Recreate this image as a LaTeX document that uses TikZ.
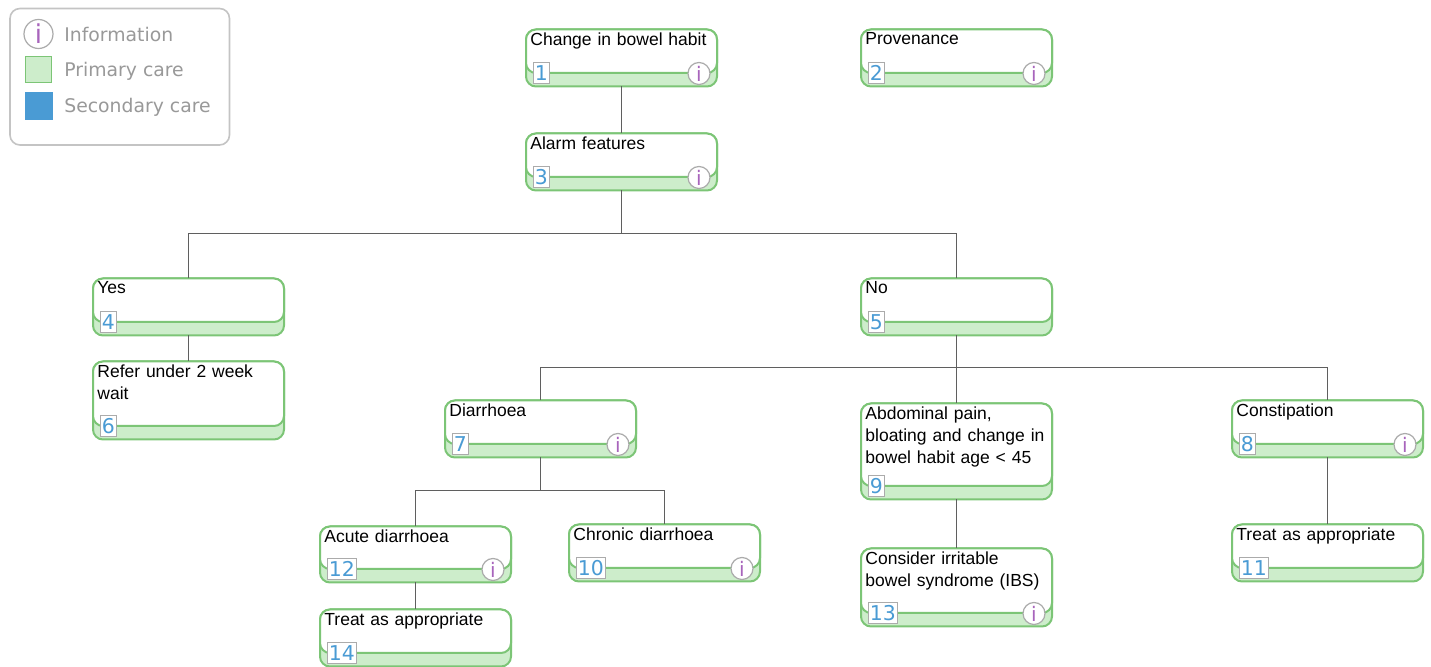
\documentclass[tikz,border=0pt]{standalone}
\usepackage{fontspec}
\setmainfont{Liberation Sans}
\newfontfamily\lucfont{DejaVu Sans}
\definecolor{gline}{HTML}{7CC576}
\definecolor{gfill}{HTML}{CDEDCB}
\definecolor{bnum}{HTML}{4A9BD4}
\definecolor{purp}{HTML}{A864BC}
\definecolor{greyt}{HTML}{999999}
\definecolor{greyl}{HTML}{ABABAB}
\definecolor{conn}{HTML}{5F5F5F}
\tikzset{
  carebox/.style={draw=gline,line width=1pt,fill=gfill,rounded corners=5pt,inner sep=0pt,outer sep=0pt},
  upper/.style={draw=gline,line width=1pt,fill=white,rounded corners=5pt},
  boxtext/.style={anchor=north west,inner sep=0pt,align=left,font=\fontsize{8.75}{11.15}\selectfont,text width=90pt},
  numbox/.style={draw=greyl,line width=0.6pt,fill=white,inner sep=0pt,font=\lucfont\fontsize{10.2}{10}\selectfont,text=bnum,minimum height=10.6pt},
  infobtn/.style={circle,draw=greyl,line width=0.6pt,fill=white,inner sep=0pt,minimum size=11pt,text=purp,font=\lucfont\fontsize{10}{10}\selectfont},
  link/.style={draw=conn,line width=0.5pt},
  legendt/.style={anchor=base west,inner sep=0pt,text=greyt,font=\lucfont\fontsize{9.4}{10}\selectfont}
}
% name, x0, x1, y0, y1, text, number, number-box width
\newcommand{\carenode}[8]{%
  \pgfmathsetmacro{\myw}{(#3-#2-1)*0.5}\pgfmathsetmacro{\myh}{(#5-#4-1)*0.5}%
  \node[carebox,minimum width=\myw pt,minimum height=\myh pt,anchor=north west] (#1) at (#2,#4+0.5) {};
  \draw[upper] (#2,#4+0.5) rectangle (#3-1,#5-14);
  \node[boxtext] (#1t) at (#2+4,#4+3) {#6};
  \node[numbox,minimum width=#8pt,anchor=south west] (#1n) at (#2+6.5,#5-3) {#7};
}
\newcommand{\infoon}[1]{\node[infobtn] (#1i) at ([xshift=-9pt,yshift=6.5pt]#1.south east) {i};}
\begin{document}
\begin{tikzpicture}[x=0.5pt,y=-0.5pt]
\useasboundingbox (0,0) rectangle (1431,667);
% legend
\draw[draw=greyl!70,line width=0.8pt,rounded corners=5pt,fill=white] (10,8.5) rectangle (229.5,145);
\node[infobtn,minimum size=14.5pt,font=\lucfont\fontsize{13}{13}\selectfont] (li) at (38.5,34) {i};
\node[legendt] (lit) at (64,42) {Information};
\node[draw=gline,line width=0.8pt,fill=gfill,minimum size=13pt,inner sep=0pt] (lp) at (38.5,69.5) {};
\node[legendt] (lpt) at (64,77) {Primary care};
\node[fill=bnum,minimum size=14pt,inner sep=0pt] (ls) at (38.5,106) {};
\node[legendt] (lst) at (64,113) {Secondary care};
% boxes
\carenode{n1}{526}{718}{29}{87}{Change in bowel habit}{1}{8.25}
\carenode{n2}{861}{1053}{29}{87}{Provenance}{2}{8.25}
\carenode{n3}{526}{718}{133}{191}{Alarm features}{3}{8.25}
\carenode{n4}{93}{285}{278}{336}{Yes}{4}{8.25}
\carenode{n6}{93}{285}{361}{440}{Refer under 2 week\\wait}{6}{8.25}
\carenode{n5}{861}{1053}{278}{336}{No}{5}{8.25}
\carenode{n7}{445}{637}{400}{458}{Diarrhoea}{7}{8.25}
\carenode{n9}{861}{1053}{403}{500}{Abdominal pain,\\bloating and change in\\bowel habit age < 45}{9}{8.25}
\carenode{n8}{1232}{1424}{400}{458}{Constipation}{8}{8.25}
\carenode{n12}{320}{512}{526}{583}{Acute diarrhoea}{12}{14.75}
\carenode{n10}{569}{761}{524}{582}{Chronic diarrhoea}{10}{14.75}
\carenode{n14}{320}{512}{609}{667}{Treat as appropriate}{14}{14.75}
\carenode{n13}{861}{1053}{548}{627}{Consider irritable\\bowel syndrome (IBS)}{13}{14.75}
\carenode{n11}{1232}{1424}{524}{582}{Treat as appropriate}{11}{14.75}
\infoon{n1}\infoon{n2}\infoon{n3}\infoon{n7}\infoon{n8}\infoon{n12}\infoon{n10}\infoon{n13}
% connectors
\path (n3.south) ++(0,43) coordinate (j3);
\path (n5.south) ++(0,32) coordinate (j5);
\path (n7.south) ++(0,33) coordinate (j7);
\draw[link] (n1.south) -- (n3.north);
\draw[link] (n3.south) -- (j3);
\draw[link] (n4.north) |- (j3) -| (n5.north);
\draw[link] (n4.south) -- (n6.north);
\draw[link] (n5.south) -- (n9.north);
\draw[link] (n7.north) |- (j5) -| (n8.north);
\draw[link] (n7.south) -- (j7);
\draw[link] (n12.north) |- (j7) -| (n10.north);
\draw[link] (n12.south) -- (n14.north);
\draw[link] (n9.south) -- (n13.north);
\draw[link] (n8.south) -- (n11.north);
\end{tikzpicture}
\end{document}
